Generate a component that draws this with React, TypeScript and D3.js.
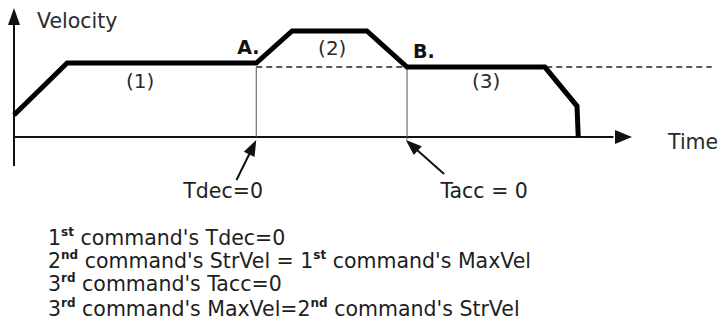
import React from "react";
import * as d3 from "d3";

const width = 722;
const height = 333;

// velocity profile: time / velocity in chart units
const profileTime = [0, 8.6, 39.2, 45, 57.1, 63.6, 85.9, 91.1, 91.3];
const profileVel = [20.8, 69.8, 69.8, 100, 100, 66, 66, 29.2, 0];

// reference (dashed) level: start velocity of command 2
const refLevel = 66;
const refStart = 39.2;
const refEnd = 112.9;

// blend points A and B
const blendPoints = [
  { name: "A.", t: 39.2, v: 66 },
  { name: "B.", t: 63.6, v: 66 },
];

const segmentLabels = [
  { label: "(1)", t: 20.4, v: 46 },
  { label: "(2)", t: 51.5, v: 77 },
  { label: "(3)", t: 76.4, v: 46 },
];

const arrowNotes = [
  { label: "Tdec=0", t: 39.2, tail: [-3.2, -40], textT: 27.4 },
  { label: "Tacc = 0", t: 63.4, tail: [6.2, -34], textT: 69 },
];

const notes = [
  [["1", ""], ["st", "sup"], [" command's Tdec=0", ""]],
  [["2", ""], ["nd", "sup"], [" command's StrVel = 1", ""], ["st", "sup"], [" command's MaxVel", ""]],
  [["3", ""], ["rd", "sup"], [" command's Tacc=0", ""]],
  [["3", ""], ["rd", "sup"], [" command's MaxVel=2", ""], ["nd", "sup"], [" command's StrVel", ""]],
];
const noteBaselines = [245, 268, 291, 316];

export default function App() {
  const x = d3.scaleLinear().domain([0, 100]).range([14, 632]);
  const y = d3.scaleLinear().domain([0, 100]).range([137, 31]);

  const line = d3
    .line<number>()
    .x((_, i) => x(profileTime[i]))
    .y((d) => y(d));

  const font = "'DejaVu Sans', Verdana, sans-serif";
  const ink = "#111";

  const arrowHead = (tipX: number, tipY: number, dx: number, dy: number, len: number, w: number) => {
    const l = Math.hypot(dx, dy);
    const ux = dx / l;
    const uy = dy / l;
    const bx = tipX - ux * len;
    const by = tipY - uy * len;
    return `M${tipX},${tipY}L${bx - uy * w},${by + ux * w}L${bx + uy * w},${by - ux * w}Z`;
  };

  return (
    <svg
      width={width}
      height={height}
      style={{ position: "absolute", left: 0, top: 0, background: "#fff" }}
      fontFamily={font}
    >
      {/* axes */}
      <line x1={x(0)} x2={x(0)} y1={y(-27.4)} y2={y(112)} stroke={ink} strokeWidth={2} />
      <path d={arrowHead(x(0), y(121.7), 0, -1, 17, 6)} fill={ink} />
      <line x1={x(0)} x2={x(97)} y1={y(0)} y2={y(0)} stroke={ink} strokeWidth={2} />
      <path d={arrowHead(x(100), y(0), 1, 0, 17, 7)} fill={ink} />
      <text x={37} y={28} fontSize={20.5} fill="#2a2a2a">Velocity</text>
      <text x={668} y={149} fontSize={20.5} fill="#2a2a2a">Time</text>

      {/* dashed reference */}
      <line
        x1={x(refStart)}
        x2={x(refEnd)}
        y1={y(refLevel)}
        y2={y(refLevel)}
        stroke="#222"
        strokeWidth={1.5}
        strokeDasharray="6,4"
      />

      {/* vertical markers */}
      {blendPoints.map((p, i) => (
        <line
          key={p.name}
          x1={x(p.t)}
          x2={x(p.t)}
          y1={y(p.v)}
          y2={y(i === 1 ? -2.5 : 0)}
          stroke="#555"
          strokeWidth={1}
        />
      ))}

      {/* profile */}
      <path d={line(profileVel) ?? ""} fill="none" stroke="#000" strokeWidth={5} strokeLinejoin="miter" />

      {blendPoints.map((p, i) => (
        <text
          key={p.name}
          x={x(p.t) + (i === 0 ? -19 : 6)}
          y={y(p.v) + (i === 0 ? -13 : -9)}
          fontSize={19}
          fontWeight="bold"
          fill="#111"
        >
          {p.name}
        </text>
      ))}

      {segmentLabels.map((s) => (
        <text key={s.label} x={x(s.t)} y={y(s.v)} fontSize={20} textAnchor="middle" fill="#2a2a2a">
          {s.label}
        </text>
      ))}

      {/* annotation arrows */}
      {arrowNotes.map((a) => {
        const tipX = x(a.t);
        const tipY = y(0) + 3;
        const tx = tipX + a.tail[0] * 6.18;
        const ty = tipY - a.tail[1];
        return (
          <g key={a.label}>
            <line x1={tx} y1={ty} x2={tipX + (tx - tipX) * 0.3} y2={tipY + (ty - tipY) * 0.3} stroke={ink} strokeWidth={2} />
            <path d={arrowHead(tipX, tipY, tipX - tx, tipY - ty, 16, 6)} fill={ink} />
            <text x={x(a.textT)} y={198} fontSize={20.5} fill="#1e1e1e">
              {a.label}
            </text>
          </g>
        );
      })}

      {/* notes */}
      {notes.map((parts, i) => (
        <text key={i} x={48} y={noteBaselines[i]} fontSize={20.5} fill="#1e1e1e">
          {parts.map(([s, kind], j) =>
            kind === "sup" ? (
              <tspan key={j} fontSize={12} fontWeight="bold" dy={-9}>
                {s}
              </tspan>
            ) : (
              <tspan key={j} dy={j > 0 && parts[j - 1][1] === "sup" ? 9 : 0}>
                {s}
              </tspan>
            )
          )}
        </text>
      ))}
    </svg>
  );
}
